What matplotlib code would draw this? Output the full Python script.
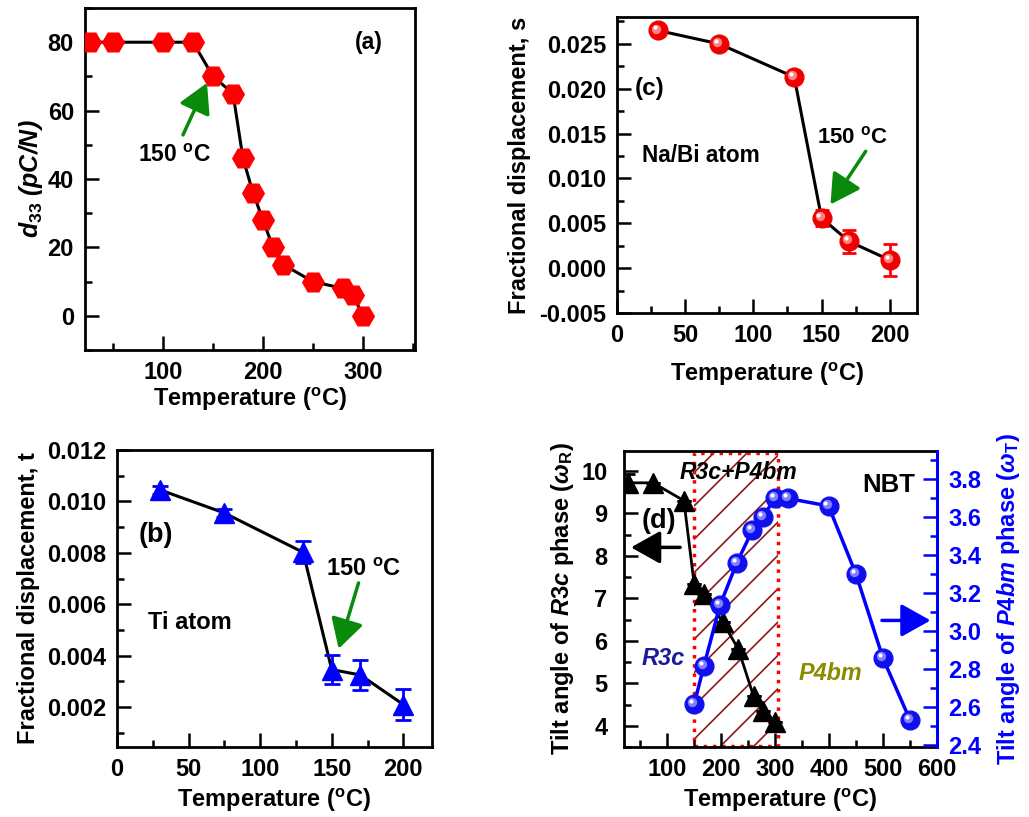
import matplotlib
matplotlib.use('Agg')
import matplotlib.pyplot as plt
from matplotlib.ticker import MultipleLocator, FormatStrFormatter
from matplotlib.transforms import offset_copy

plt.rcParams.update({
    'font.family': ['Liberation Sans', 'DejaVu Sans'],
    'font.weight': 'bold',
    'axes.labelweight': 'bold',
    'font.size': 17,
    'mathtext.fontset': 'custom',
    'mathtext.rm': 'Liberation Sans:bold',
    'mathtext.it': 'Liberation Sans:italic:bold',
    'mathtext.bf': 'Liberation Sans:bold',
    'mathtext.sf': 'Liberation Sans:bold',
    'axes.linewidth': 2.0,
    'hatch.linewidth': 1.2,
    'axes.unicode_minus': False,
})

# ---------------- data ----------------
# (a) piezoelectric coefficient
a_temp = [27, 50, 100, 130, 150, 170, 180, 190, 200, 210, 220, 250, 280, 290, 300]
a_d33 = [80, 80, 80, 80, 70, 65, 46, 36, 28, 20, 15, 10, 8, 6, 0]

# (c) Na/Bi fractional displacement s
c_temp = [30, 75, 130, 150, 170, 200]
c_s = [0.0265, 0.0250, 0.0213, 0.0056, 0.0030, 0.0009]
c_err = [0.0002, 0.0002, 0.0002, 0.0009, 0.0013, 0.0018]

# (b) Ti fractional displacement t
b_temp = [30, 75, 130, 150, 170, 200]
b_t = [0.01045, 0.00955, 0.00802, 0.00346, 0.00325, 0.00210]
b_err = [0.00015, 0.00015, 0.00043, 0.00055, 0.00057, 0.00062]

# (d) tilt angles
d_r_temp = [28, 74, 131, 150, 168, 203, 232, 260, 278, 300]
d_r_angle = [9.72, 9.72, 9.3, 7.34, 7.1, 6.44, 5.8, 4.7, 4.35, 4.1]
d_r_err = [0.2, 0, 0, 0, 0, 0, 0, 0, 0, 0]
d_t_temp = [150, 168, 198, 229, 258, 278, 299, 324, 399, 450, 500, 550]
d_t_angle = [2.615, 2.816, 3.138, 3.36, 3.533, 3.603, 3.70, 3.70, 3.66, 3.30, 2.857, 2.532]
d_mixed_range = [150, 305]

RED = '#ff0000'
BLUE = '#0000ff'
GREEN = '#0a8a0a'

fig = plt.figure(figsize=(10.29, 8.17), dpi=100)


def style_axes(ax):
    ax.tick_params(which='both', direction='in', top=False, right=False,
                   labelsize=17, width=1.8)
    ax.tick_params(which='major', length=10, pad=8)
    ax.tick_params(which='minor', length=5)
    for lab in ax.get_xticklabels() + ax.get_yticklabels():
        lab.set_fontweight('bold')


def balls(ax, x, y, color, light, ms, zorder):
    ax.plot(x, y, 'o', ls='none', ms=ms, color=color, mec=color, zorder=zorder)
    t1 = offset_copy(ax.transData, fig=fig, x=-1.4, y=1.4, units='points')
    ax.plot(x, y, 'o', ls='none', ms=ms * 0.5, color=light, mec='none',
            transform=t1, zorder=zorder + 0.1)
    t2 = offset_copy(ax.transData, fig=fig, x=-2.2, y=2.2, units='points')
    ax.plot(x, y, 'o', ls='none', ms=ms * 0.22, color='white', mec='none',
            transform=t2, zorder=zorder + 0.2)


def arrow(ax, tail, head, color):
    ax.annotate('', xy=head, xytext=tail,
                arrowprops=dict(arrowstyle='-|>,head_length=0.75,head_width=0.42',
                                color=color, lw=2.5, mutation_scale=24,
                                shrinkA=0, shrinkB=0))


TEMP_LABEL = r'Temperature ($^{\mathbf{o}}$C)'
DEG150 = r'150 $^{\mathbf{o}}$C'

# ---------------- (a) ----------------
ax_a = fig.add_axes([0.0826, 0.5716, 0.3207, 0.4186])
ax_a.plot(a_temp, a_d33, '-', color='k', lw=2.2, zorder=2)
ax_a.plot(a_temp, a_d33, 'H', ls='none', color=RED, mec=RED, ms=15.5, zorder=3)
ax_a.set_xlim(22, 352)
ax_a.set_ylim(-10, 90)
ax_a.xaxis.set_major_locator(MultipleLocator(100))
ax_a.xaxis.set_minor_locator(MultipleLocator(50))
ax_a.yaxis.set_major_locator(MultipleLocator(20))
ax_a.yaxis.set_minor_locator(MultipleLocator(10))
style_axes(ax_a)
ax_a.set_xlabel(TEMP_LABEL, fontsize=17, labelpad=1)
ax_a.set_ylabel(r'$d_{\mathit{33}}$ (pC/N)', fontsize=18, fontstyle='italic', labelpad=2)
arrow(ax_a, (120, 52.9), (144, 68.1), GREEN)
ax_a.text(111, 46.8, DEG150, ha='center', va='center', fontsize=16.5)
ax_a.text(306, 79.8, '(a)', ha='center', va='center', fontsize=16.5)

# ---------------- (c) ----------------
ax_c = fig.add_axes([0.5996, 0.6169, 0.2915, 0.3623])
ax_c.plot(c_temp, c_s, '-', color='k', lw=2.2, zorder=2)
ax_c.errorbar(c_temp, c_s, yerr=c_err, fmt='none', ecolor=RED, elinewidth=2,
              capsize=5, capthick=2, zorder=3)
balls(ax_c, c_temp, c_s, '#ee0000', '#ff8080', 13.5, 4)
ax_c.set_xlim(0, 220)
ax_c.set_ylim(-0.005, 0.028)
ax_c.xaxis.set_major_locator(MultipleLocator(50))
ax_c.xaxis.set_minor_locator(MultipleLocator(25))
ax_c.yaxis.set_major_locator(MultipleLocator(0.005))
ax_c.yaxis.set_minor_locator(MultipleLocator(0.0025))
ax_c.yaxis.set_major_formatter(FormatStrFormatter('%.3f'))
style_axes(ax_c)
ax_c.set_xlabel(TEMP_LABEL, fontsize=17, labelpad=10)
ax_c.set_ylabel('Fractional displacement, s', fontsize=17, labelpad=6)
arrow(ax_c, (182.4, 0.01303), (156.6, 0.0071), GREEN)
ax_c.text(172.8, 0.01456, DEG150, ha='center', va='center', fontsize=16)
ax_c.text(24.3, 0.0200, '(c)', ha='center', va='center', fontsize=17.5)
ax_c.text(18.4, 0.01256, 'Na/Bi atom', ha='left', va='center', fontsize=16.3)

# ---------------- (b) ----------------
ax_b = fig.add_axes([0.1137, 0.0857, 0.3061, 0.3635])
ax_b.plot(b_temp, b_t, '-', color='k', lw=2.2, zorder=2)
ax_b.errorbar(b_temp, b_t, yerr=b_err, fmt='none', ecolor=BLUE, elinewidth=2,
              capsize=5.5, capthick=2, zorder=3)
ax_b.plot(b_temp, b_t, '^', ls='none', color=BLUE, mec=BLUE, ms=14, zorder=4)
ax_b.set_xlim(0, 220)
ax_b.set_ylim(0.00045, 0.012)
ax_b.xaxis.set_major_locator(MultipleLocator(50))
ax_b.xaxis.set_minor_locator(MultipleLocator(25))
ax_b.yaxis.set_major_locator(MultipleLocator(0.002))
ax_b.yaxis.set_minor_locator(MultipleLocator(0.001))
ax_b.yaxis.set_major_formatter(FormatStrFormatter('%.3f'))
style_axes(ax_b)
ax_b.set_xlabel(TEMP_LABEL, fontsize=17, labelpad=4)
ax_b.set_ylabel('Fractional displacement, t', fontsize=17, labelpad=5)
arrow(ax_b, (168.7, 0.00683), (154.8, 0.00427), GREEN)
ax_b.text(172.4, 0.00736, DEG150, ha='center', va='center', fontsize=17)
ax_b.text(27.2, 0.00869, '(b)', ha='center', va='center', fontsize=19.5)
ax_b.text(21.7, 0.00528, 'Ti atom', ha='left', va='center', fontsize=17)

# ---------------- (d) ----------------
ax_d = fig.add_axes([0.6064, 0.0857, 0.3042, 0.3623])
ax_d.axvspan(d_mixed_range[0], d_mixed_range[1], facecolor='none', edgecolor='#8b1a1a',
             hatch='/', lw=0, zorder=0.5)
ax_d.axvspan(d_mixed_range[0], d_mixed_range[1], ymin=0.004, ymax=0.993, fill=False,
             edgecolor=RED, ls=':', lw=2.5, zorder=0.6)
ax_d.plot(d_r_temp, d_r_angle, '-', color='k', lw=2, zorder=2)
ax_d.errorbar(d_r_temp, d_r_angle, yerr=d_r_err, fmt='none', ecolor='k',
              elinewidth=2, capsize=5, capthick=2, zorder=3)
ax_d.plot(d_r_temp, d_r_angle, '^', ls='none', color='k', ms=14, zorder=4)
ax_d.set_xlim(20, 600)
ax_d.set_ylim(3.5, 10.47)
ax_d.xaxis.set_major_locator(MultipleLocator(100))
ax_d.xaxis.set_minor_locator(MultipleLocator(50))
ax_d.yaxis.set_major_locator(MultipleLocator(1))
ax_d.yaxis.set_minor_locator(MultipleLocator(0.5))
style_axes(ax_d)
ax_d.tick_params(axis='y', which='major', pad=12)
ax_d.spines['right'].set_visible(False)
ax_d.set_xlabel(TEMP_LABEL, fontsize=17, labelpad=4)
ax_d.set_ylabel(r'Tilt angle of $\mathit{R3c}$ phase ($\omega_{\mathrm{R}}$)',
                fontsize=17, labelpad=4)

ax_d2 = ax_d.twinx()
ax_d2.plot(d_t_temp, d_t_angle, '-', color=BLUE, lw=2.5, zorder=2)
balls(ax_d2, d_t_temp, d_t_angle, '#1010ee', '#8080ff', 13.5, 3)
ax_d2.set_ylim(2.39, 3.95)
ax_d2.yaxis.set_major_locator(MultipleLocator(0.2))
ax_d2.yaxis.set_minor_locator(MultipleLocator(0.1))
ax_d2.yaxis.set_major_formatter(FormatStrFormatter('%.1f'))
for s in ['left', 'top', 'bottom']:
    ax_d2.spines[s].set_visible(False)
ax_d2.spines['right'].set_color(BLUE)
ax_d2.spines['right'].set_linewidth(2.2)
ax_d2.tick_params(axis='y', which='both', direction='in', right=True, left=False,
                  colors=BLUE, labelsize=17, width=1.8)
ax_d2.tick_params(axis='y', which='major', length=10, pad=8)
ax_d2.tick_params(axis='y', which='minor', length=5)
for lab in ax_d2.get_yticklabels():
    lab.set_fontweight('bold')
ax_d2.set_ylabel(r'Tilt angle of $\mathit{P4bm}$ phase ($\omega_{\mathrm{T}}$)',
                 fontsize=17, color=BLUE, labelpad=10)

ax_d.text(232, 9.96, 'R3c+P4bm', ha='center', va='center', fontsize=16.5,
          fontstyle='italic', zorder=5)
ax_d.text(510, 9.67, 'NBT', ha='center', va='center', fontsize=18.5)
ax_d.text(85, 8.81, '(d)', ha='center', va='center', fontsize=19.5, zorder=5)
ax_d.text(93, 5.58, 'R3c', ha='center', va='center', fontsize=17,
          fontstyle='italic', color='#1a1a9a')
ax_d.text(402, 5.23, 'P4bm', ha='center', va='center', fontsize=16.8,
          fontstyle='italic', color='#8b8b00')
arrow(ax_d, (124, 8.2), (33, 8.2), 'k')
arrow(ax_d, (498, 6.48), (588, 6.48), BLUE)

fig.savefig('out.png', dpi=100)
